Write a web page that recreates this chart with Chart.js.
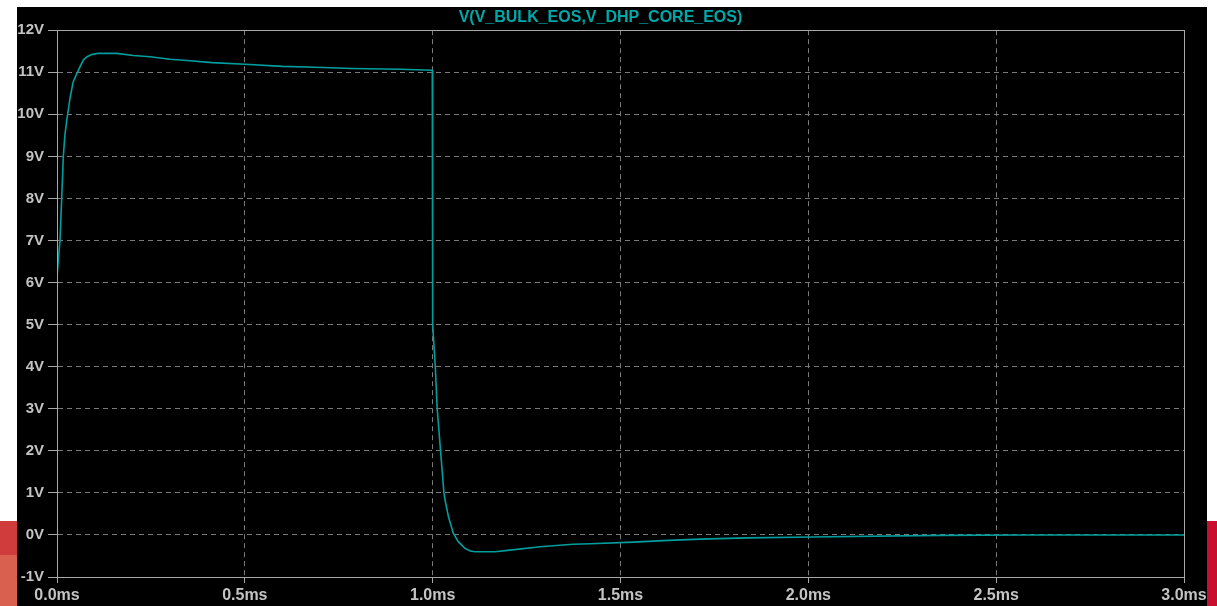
<!DOCTYPE html>
<html lang="en">
<head>
  <meta charset="UTF-8">
  <title>V(V_BULK_EOS,V_DHP_CORE_EOS)</title>
  <script src="https://cdn.jsdelivr.net/npm/chart.js"></script>
  <style>
    html, body {
      margin: 0;
      padding: 0;
      background-color: #ffffff;
      overflow: hidden;
    }
    body {
      width: 1217px;
      height: 606px;
      position: relative;
    }
    .stripe { position: absolute; }
    #plotBox {
      position: absolute;
      left: 17px;
      top: 7px;
      width: 1190px;
      height: 599px;
      background-color: #000000;
    }
  </style>
</head>
<body>
  <div class="stripe" style="left:0;top:521px;width:17px;height:34px;background:#d03c3c"></div>
  <div class="stripe" style="left:0;top:555px;width:17px;height:51px;background:#d9604f"></div>
  <div class="stripe" style="left:1207px;top:521px;width:10px;height:85px;background:#c8102e"></div>
  <div id="plotBox">
    <canvas id="waveChart"></canvas>
  </div>

  <script>
    // transient trace, time in ms, voltage in V
    const timeMs = [
      0, 0.0005, 0.004, 0.008, 0.0125, 0.0168, 0.021, 0.026, 0.035, 0.043,
      0.057, 0.070, 0.080, 0.092, 0.110, 0.159, 0.203, 0.248, 0.301, 0.346,
      0.413, 0.500, 0.600, 0.687, 0.785, 0.913, 0.999, 1.000, 1.007, 1.012,
      1.021, 1.030, 1.033, 1.042, 1.055, 1.068, 1.086, 1.100, 1.113, 1.166,
      1.206, 1.286, 1.373, 1.420, 1.533, 1.613, 1.711, 1.837, 2.010, 2.350,
      2.580, 3.000
    ];
    const volts = [
      0, 6.2, 6.6, 7.0, 8.0, 9.0, 9.5, 9.86, 10.4, 10.77,
      11.05, 11.29, 11.37, 11.42, 11.45, 11.45, 11.40, 11.37, 11.31, 11.28,
      11.23, 11.19, 11.14, 11.12, 11.09, 11.07, 11.05, 5.0, 4.0, 3.0,
      2.0, 1.0, 0.83, 0.43, 0.04, -0.16, -0.32, -0.38, -0.40, -0.40,
      -0.36, -0.28, -0.22, -0.21, -0.17, -0.135, -0.10, -0.07, -0.05, -0.01,
      0, 0
    ];
    const xTickLabels = ['0.0ms', '0.5ms', '1.0ms', '1.5ms', '2.0ms', '2.5ms', '3.0ms'];
    const yTickLabels = ['-1V', '0V', '1V', '2V', '3V', '4V', '5V', '6V', '7V', '8V', '9V', '10V', '11V', '12V'];
    const traceName = 'V(V_BULK_EOS,V_DHP_CORE_EOS)';

    const labelFont = { family: '"Liberation Sans", Arial, sans-serif', weight: 'bold' };
    const gridColor = '#7a7a7a';
    const axisColor = '#a8a8a8';

    // solid frame around the plot area (top and right sides)
    const framePlugin = {
      id: 'frame',
      afterDraw(chart) {
        const a = chart.chartArea;
        const ctx = chart.ctx;
        ctx.save();
        ctx.strokeStyle = axisColor;
        ctx.lineWidth = 1;
        ctx.strokeRect(Math.round(a.left) + 0.5, Math.round(a.top) + 0.5,
          Math.round(a.right - a.left), Math.round(a.bottom - a.top));
        ctx.restore();
      }
    };

    const points = timeMs.map((t, i) => ({ x: t, y: volts[i] }));

    new Chart(document.getElementById('waveChart'), {
      type: 'line',
      data: {
        datasets: [{
          label: traceName,
          data: points,
          borderColor: '#009e9e',
          borderWidth: 1.6,
          pointRadius: 0,
          tension: 0,
          fill: false
        }]
      },
      options: {
        responsive: true,
        maintainAspectRatio: false,
        animation: false,
        layout: { padding: { top: 0, right: 23, bottom: 0, left: 0 } },
        plugins: {
          legend: { display: false },
          tooltip: { enabled: false },
          title: {
            display: true,
            text: traceName,
            color: '#00a8a8',
            font: { ...labelFont, size: 16 },
            padding: { top: 1, bottom: 3 }
          }
        },
        scales: {
          x: {
            type: 'linear',
            min: 0,
            max: 3,
            afterFit(scale) {
              scale.height = 29;
              scale.paddingLeft = 0;
              scale.paddingRight = 0;
            },
            afterBuildTicks(scale) {
              scale.ticks = xTickLabels.map((_, i) => ({ value: i * 0.5 }));
            },
            ticks: {
              color: '#c4c4c4',
              font: { ...labelFont, size: 16 },
              padding: 3,
              maxRotation: 0,
              autoSkip: false,
              callback: (v, i) => xTickLabels[i]
            },
            grid: {
              color: gridColor,
              tickColor: axisColor,
              tickLength: 6,
              tickBorderDash: [],
              borderDash: [5, 4]
            },
            border: { color: axisColor, dash: [5, 4] }
          },
          y: {
            type: 'linear',
            min: -1,
            max: 12,
            afterFit(scale) {
              scale.width = 40;
              scale.paddingTop = 0;
              scale.paddingBottom = 0;
            },
            afterBuildTicks(scale) {
              scale.ticks = yTickLabels.map((_, i) => ({ value: i - 1 }));
            },
            ticks: {
              color: '#c4c4c4',
              font: { ...labelFont, size: 15 },
              padding: 4,
              autoSkip: false,
              callback: (v, i) => yTickLabels[i]
            },
            grid: {
              color: gridColor,
              tickColor: axisColor,
              tickLength: 9,
              tickBorderDash: [],
              borderDash: [5, 4]
            },
            border: { color: axisColor, dash: [5, 4] }
          }
        }
      },
      plugins: [framePlugin]
    });
  </script>
</body>
</html>
